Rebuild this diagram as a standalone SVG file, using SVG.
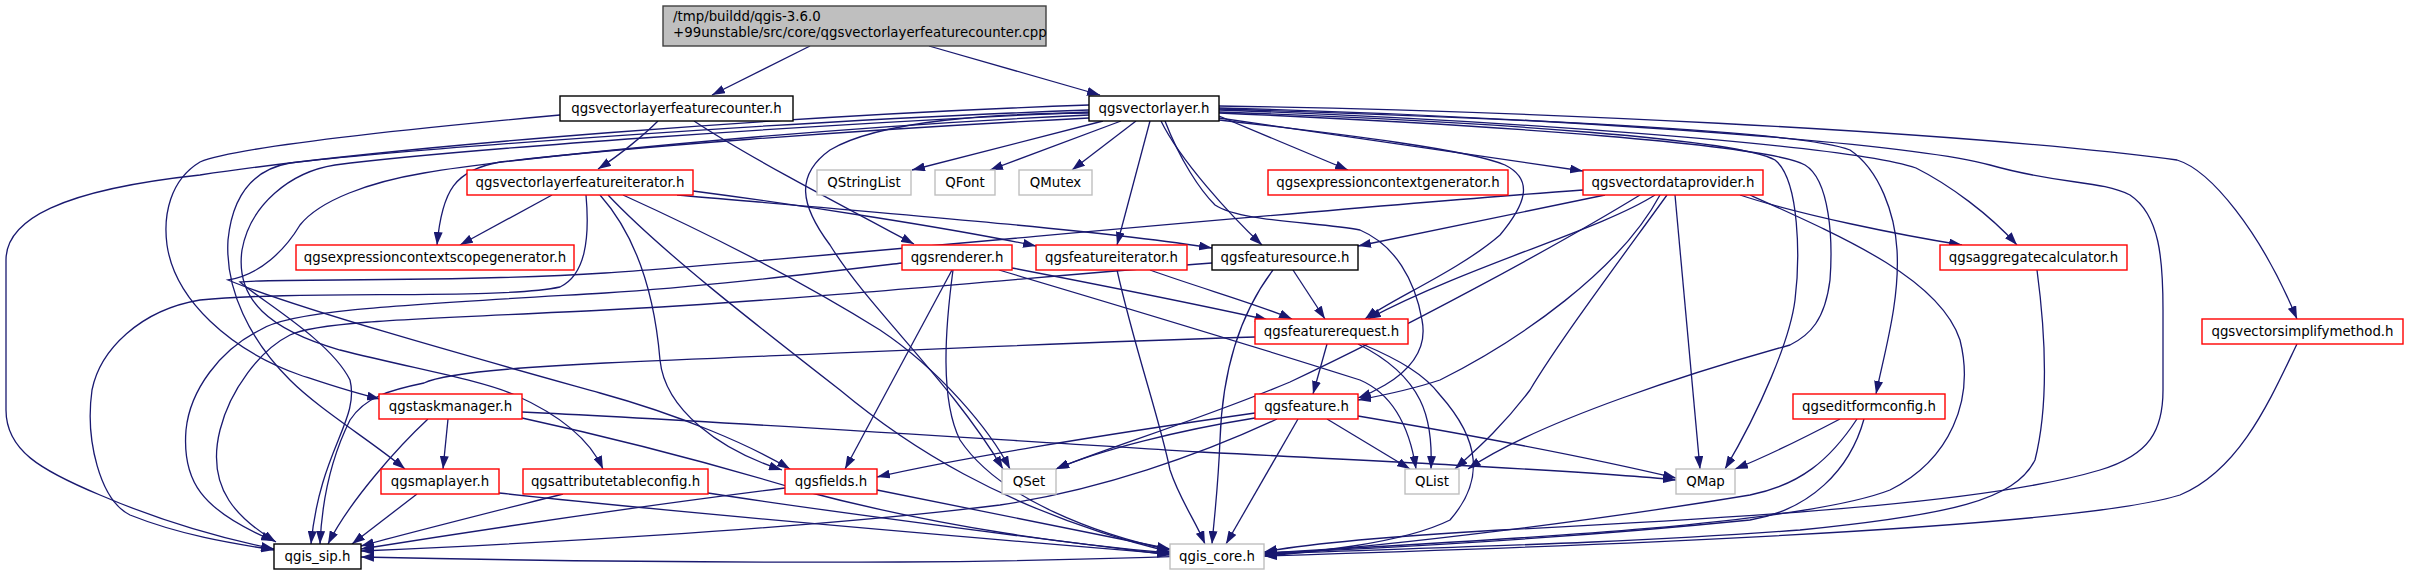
<svg xmlns="http://www.w3.org/2000/svg" width="2409" height="575" viewBox="0 0 2409 575">
<defs>
<marker id="a" viewBox="0 0 13 9" refX="13" refY="4.5" markerWidth="13" markerHeight="9" markerUnits="userSpaceOnUse" orient="auto"><path d="M0,0 L13,4.5 L0,9 z" fill="#191970"/></marker>
</defs>
<style>
rect{stroke-width:1.4}
.b{fill:#fff;stroke:#000}
.r{fill:#fff;stroke:#ff0000}
.g{fill:#fff;stroke:#bfbfbf}
.root{fill:#bfbfbf;stroke:#404040}
text{font-family:"DejaVu Sans","Liberation Sans",sans-serif;font-size:13.33px;fill:#000;text-anchor:middle}
.e path{fill:none;stroke:#191970;stroke-width:1.3;marker-end:url(#a)}
</style>
<rect width="2409" height="575" fill="#fff"/>
<g class="e" id="edges">
<path d="M810,46 L712,95"/>
<path d="M929,46 L1100,95"/>
<path d="M658,121 C645,134 620,155 598,169"/>
<path d="M694,121 C750,158 850,210 914,244"/>
<path d="M560,115 C450,125 240,145 200,162 C170,180 163,215 167,245 C175,300 230,350 300,375 C330,385 350,392 380,399"/>
<path d="M1103,121 L912,170"/>
<path d="M1121,121 L990,170"/>
<path d="M1136,121 L1072,170"/>
<path d="M1150,121 L1117,245"/>
<path d="M1161,121 C1180,160 1230,215 1262,245"/>
<path d="M1219,116 L1348,170"/>
<path d="M1219,118 C1350,138 1480,155 1583,171"/>
<path d="M1219,120 C1350,135 1470,150 1505,165 C1535,180 1525,205 1500,235 C1460,270 1390,300 1365,319"/>
<path d="M1165,121 C1180,160 1200,190 1215,205 C1240,222 1320,222 1360,230 C1395,245 1415,280 1422,320 C1428,350 1410,370 1385,385 C1375,391 1366,395 1358,398"/>
<path d="M1219,110 C1500,120 1850,145 1916,168 C1950,185 1990,215 2017,245"/>
<path d="M1219,109 C1500,118 1800,130 1850,150 C1880,170 1895,215 1897,250 C1900,300 1885,350 1876,394"/>
<path d="M1219,108 C1500,115 1900,140 1990,165 C2060,185 2100,180 2130,195 C2160,215 2163,260 2163,310 L2163,390 C2163,430 2150,455 2100,470 C2000,500 1800,515 1500,530 C1380,537 1300,545 1264,552"/>
<path d="M1219,106 C1500,110 1950,130 2177,160 C2210,170 2260,230 2297,319"/>
<path d="M1219,113 C1500,125 1770,145 1805,165 C1830,180 1833,240 1830,280 C1825,320 1810,335 1790,345 C1700,370 1540,420 1468,469"/>
<path d="M1219,112 C1500,122 1740,140 1775,160 C1800,180 1800,260 1795,300 C1790,340 1760,410 1725,469"/>
<path d="M1089,113 C1000,113 880,120 830,150 C795,175 800,205 830,245 C870,310 950,380 1003,469"/>
<path d="M1089,105 C800,115 400,145 200,175 C60,190 6,220 6,260 L6,410 C6,450 40,470 100,495 C170,525 230,540 274,549"/>
<path d="M1089,118 C850,130 620,148 500,162 C455,170 442,190 437,245"/>
<path d="M1089,110 C800,120 400,150 290,163 C250,170 232,200 228,240 C225,290 250,340 290,380 C320,410 370,440 405,469"/>
<path d="M1089,112 C800,125 450,150 335,165 C290,172 250,205 242,250 C235,300 270,330 340,350 C420,370 480,380 515,395 C560,415 590,440 603,469"/>
<path d="M1089,115 C800,128 500,160 424,173 C370,182 320,200 300,225 C285,250 260,275 228,280 C300,310 500,365 600,393 C680,415 750,445 790,469"/>
<path d="M552,195 L460,245"/>
<path d="M693,191 C800,205 950,228 1036,246"/>
<path d="M677,195 C850,210 1100,230 1212,248"/>
<path d="M600,195 C640,240 655,300 660,360 C665,410 720,450 782,470"/>
<path d="M623,195 C700,230 800,280 880,330 C940,370 990,430 1010,469"/>
<path d="M608,195 C660,250 750,320 840,390 C900,440 1000,510 1170,552"/>
<path d="M586,195 C590,240 585,275 560,287 C500,300 300,290 200,300 C140,310 100,350 92,390 C85,440 100,500 130,515 C180,535 230,543 274,550"/>
<path d="M1605,195 L1358,246"/>
<path d="M1655,195 C1600,230 1470,265 1368,319"/>
<path d="M1660,195 C1620,270 1520,340 1440,380 C1410,390 1385,395 1358,400"/>
<path d="M1740,195 C1800,215 1900,235 1962,245"/>
<path d="M1750,195 C1850,240 1940,280 1960,340 C1975,400 1950,460 1890,490 C1800,525 1500,540 1264,553"/>
<path d="M1667,195 C1620,260 1560,340 1530,390 C1500,430 1470,455 1455,469"/>
<path d="M1675,195 L1700,469"/>
<path d="M1640,195 C1550,250 1400,330 1290,382 C1200,420 1100,450 1056,469"/>
<path d="M1583,190 C1300,210 800,260 605,273 C450,283 280,278 240,282 C260,300 330,340 350,380 C360,420 320,450 311,544"/>
<path d="M952,270 L845,469"/>
<path d="M953,270 C945,330 940,400 960,440 C1000,500 1100,535 1170,550"/>
<path d="M999,270 C1100,300 1250,345 1360,380 C1395,395 1410,430 1416,469"/>
<path d="M1012,268 C1100,285 1200,305 1268,320"/>
<path d="M902,263 C800,275 700,287 605,293 C400,305 290,310 260,330 C220,350 190,390 186,430 C182,480 200,510 274,541"/>
<path d="M1150,270 C1200,288 1260,305 1292,319"/>
<path d="M1117,270 C1135,350 1160,420 1170,470 C1180,500 1195,520 1205,544"/>
<path d="M1293,270 L1325,319"/>
<path d="M1273,270 C1235,320 1222,380 1220,440 C1218,490 1214,520 1212,544"/>
<path d="M1212,263 C1000,280 800,300 605,310 C450,318 320,320 290,335 C260,350 230,390 220,430 C205,490 240,520 276,542"/>
<path d="M2037,270 C2045,330 2050,400 2035,460 C2015,500 1950,515 1800,530 C1600,545 1400,548 1264,554"/>
<path d="M1327,344 L1313,394"/>
<path d="M1362,344 C1400,360 1425,375 1440,395 C1480,440 1485,480 1450,520 C1400,545 1300,553 1264,556"/>
<path d="M1358,344 C1390,360 1410,380 1420,400 C1430,420 1432,445 1431,469"/>
<path d="M1255,337 C1000,345 800,355 605,363 C500,368 440,375 424,383 C390,390 365,397 350,420 C330,460 322,500 320,544"/>
<path d="M2297,344 C2270,400 2240,470 2180,495 C2100,520 1800,540 1264,556"/>
<path d="M448,419 L443,469"/>
<path d="M428,419 C400,445 350,500 328,544"/>
<path d="M522,412 C700,420 1000,440 1200,452 C1400,462 1600,472 1676,480"/>
<path d="M522,418 C600,435 700,460 800,490 C950,530 1080,545 1170,553"/>
<path d="M417,494 L352,544"/>
<path d="M499,493 C700,515 1000,540 1170,554"/>
<path d="M563,494 C500,510 420,530 361,546"/>
<path d="M708,493 C850,515 1050,540 1170,555"/>
<path d="M785,488 C650,505 480,530 361,549"/>
<path d="M877,490 C1000,515 1100,535 1170,549"/>
<path d="M1255,413 C1100,435 950,460 877,477"/>
<path d="M1255,418 C1180,430 1100,450 1056,469"/>
<path d="M1277,419 C1200,455 1100,490 1000,505 C800,530 500,545 361,551"/>
<path d="M1298,419 L1226,544"/>
<path d="M1327,419 L1410,469"/>
<path d="M1358,416 C1500,440 1600,460 1676,478"/>
<path d="M1840,419 C1800,440 1770,455 1735,469"/>
<path d="M1857,419 C1830,460 1800,485 1750,495 C1600,520 1400,545 1264,555"/>
<path d="M1864,419 C1850,470 1810,510 1750,520 C1500,545 1200,560 900,562 C700,563 500,560 361,557"/>
</g>
<g id="root"><rect class="root" x="663" y="6" width="383" height="40"/><text x="673" y="21" style="text-anchor:start">/tmp/buildd/qgis-3.6.0</text><text x="673" y="37" style="text-anchor:start">+99unstable/src/core/qgsvectorlayerfeaturecounter.cpp</text></g>
<g id="n_vlfc"><rect class="b" x="560" y="96" width="233" height="25"/><text x="676.5" y="113">qgsvectorlayerfeaturecounter.h</text></g>
<g id="n_vl"><rect class="b" x="1089" y="96" width="130" height="25"/><text x="1154" y="113">qgsvectorlayer.h</text></g>
<g id="n_vlfi"><rect class="r" x="467" y="170" width="226" height="25"/><text x="580" y="187">qgsvectorlayerfeatureiterator.h</text></g>
<g id="n_qstringlist"><rect class="g" x="817" y="170" width="94" height="25"/><text x="864" y="187">QStringList</text></g>
<g id="n_qfont"><rect class="g" x="935" y="170" width="60" height="25"/><text x="965" y="187">QFont</text></g>
<g id="n_qmutex"><rect class="g" x="1019" y="170" width="73" height="25"/><text x="1055.5" y="187">QMutex</text></g>
<g id="n_ecg"><rect class="r" x="1268" y="170" width="240" height="25"/><text x="1388" y="187">qgsexpressioncontextgenerator.h</text></g>
<g id="n_vdp"><rect class="r" x="1583" y="170" width="180" height="25"/><text x="1673" y="187">qgsvectordataprovider.h</text></g>
<g id="n_ecsg"><rect class="r" x="296" y="245" width="278" height="25"/><text x="435" y="262">qgsexpressioncontextscopegenerator.h</text></g>
<g id="n_ren"><rect class="r" x="902" y="245" width="110" height="25"/><text x="957" y="262">qgsrenderer.h</text></g>
<g id="n_fi"><rect class="r" x="1036" y="245" width="151" height="25"/><text x="1111.5" y="262">qgsfeatureiterator.h</text></g>
<g id="n_fs"><rect class="b" x="1212" y="245" width="146" height="25"/><text x="1285" y="262">qgsfeaturesource.h</text></g>
<g id="n_agg"><rect class="r" x="1940" y="245" width="187" height="25"/><text x="2033.5" y="262">qgsaggregatecalculator.h</text></g>
<g id="n_fr"><rect class="r" x="1255" y="319" width="153" height="25"/><text x="1331.5" y="336">qgsfeaturerequest.h</text></g>
<g id="n_vsm"><rect class="r" x="2202" y="319" width="201" height="25"/><text x="2302.5" y="336">qgsvectorsimplifymethod.h</text></g>
<g id="n_tm"><rect class="r" x="379" y="394" width="143" height="25"/><text x="450.5" y="411">qgstaskmanager.h</text></g>
<g id="n_f"><rect class="r" x="1255" y="394" width="103" height="25"/><text x="1306.5" y="411">qgsfeature.h</text></g>
<g id="n_efc"><rect class="r" x="1793" y="394" width="152" height="25"/><text x="1869" y="411">qgseditformconfig.h</text></g>
<g id="n_ml"><rect class="r" x="381" y="469" width="118" height="25"/><text x="440" y="486">qgsmaplayer.h</text></g>
<g id="n_atc"><rect class="r" x="523" y="469" width="185" height="25"/><text x="615.5" y="486">qgsattributetableconfig.h</text></g>
<g id="n_fld"><rect class="r" x="785" y="469" width="92" height="25"/><text x="831" y="486">qgsfields.h</text></g>
<g id="n_qset"><rect class="g" x="1002" y="469" width="54" height="25"/><text x="1029" y="486">QSet</text></g>
<g id="n_qlist"><rect class="g" x="1405" y="469" width="54" height="25"/><text x="1432" y="486">QList</text></g>
<g id="n_qmap"><rect class="g" x="1676" y="469" width="59" height="25"/><text x="1705.5" y="486">QMap</text></g>
<g id="n_sip"><rect class="b" x="274" y="544" width="87" height="25"/><text x="317.5" y="561">qgis_sip.h</text></g>
<g id="n_core"><rect class="g" x="1170" y="544" width="94" height="25"/><text x="1217" y="561">qgis_core.h</text></g>
</svg>
